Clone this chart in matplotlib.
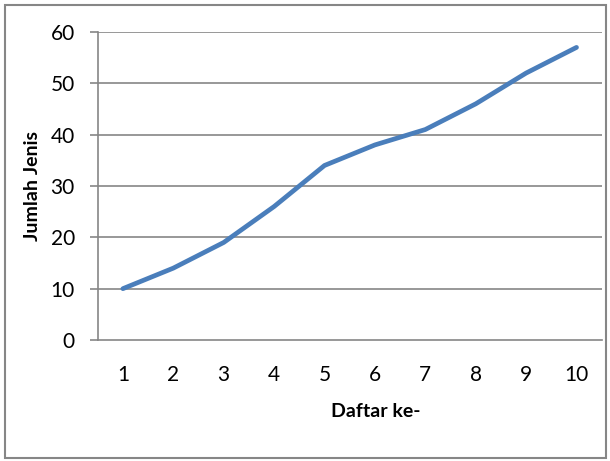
import matplotlib
matplotlib.use("Agg")
import matplotlib.pyplot as plt
from matplotlib.patches import Rectangle

plt.rcParams["font.family"] = ["Lato", "DejaVu Sans"]

daftar = [1, 2, 3, 4, 5, 6, 7, 8, 9, 10]
jumlah_jenis = [10, 14, 19, 26, 34, 38, 41, 46, 52, 57]
y_ticks = [0, 10, 20, 30, 40, 50, 60]

GRID = "#868686"
LINE = "#4A7EBB"

fig = plt.figure(figsize=(6.10, 4.61), dpi=100)
fig.patches.append(Rectangle((5 / 610, 3 / 461), 601 / 610, 453 / 461,
                             transform=fig.transFigure, fill=False,
                             edgecolor=GRID, linewidth=1.5))

ax = fig.add_axes([97.7 / 610, 121 / 461, 504 / 610, 308 / 461])
ax.plot(daftar, jumlah_jenis, color=LINE, linewidth=3.4, solid_capstyle="round")

ax.set_xlim(0.5, 10.5)
ax.set_ylim(0, 60)
ax.set_yticks(y_ticks)
ax.set_xticks(daftar)
for y in y_ticks[1:]:
    ax.axhline(y, color=GRID, linewidth=1.2, zorder=0)

for side in ("top", "right"):
    ax.spines[side].set_visible(False)
for side in ("left", "bottom"):
    ax.spines[side].set_color(GRID)
    ax.spines[side].set_linewidth(1.2)

ax.tick_params(axis="y", length=5.5, width=1.2, color=GRID, labelsize=15, pad=11)
ax.tick_params(axis="x", length=0, labelsize=15, pad=18)

ax.set_xlabel("Daftar ke-", fontsize=14, fontweight="bold", labelpad=14)
ax.xaxis.set_label_coords(0.552, -0.205)
ax.set_ylabel("Jumlah Jenis", fontsize=14, fontweight="bold", labelpad=7)

fig.savefig("out.png", dpi=100)
